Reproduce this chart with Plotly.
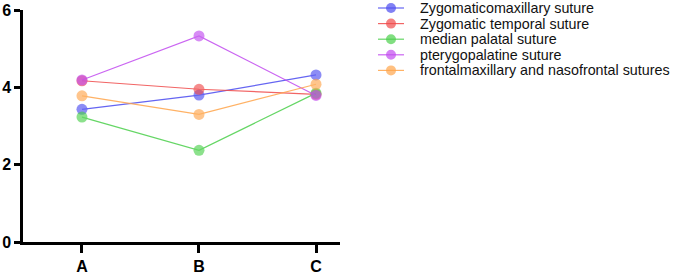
import plotly.graph_objects as go

categories = ["A", "B", "C"]
series_names = [
    "Zygomaticomaxillary suture",
    "Zygomatic temporal suture",
    "median palatal suture",
    "pterygopalatine suture",
    "frontalmaxillary and nasofrontal sutures",
]
zygomaticomaxillary = [3.43, 3.80, 4.32]
zygomatic_temporal = [4.17, 3.95, 3.82]
median_palatal = [3.23, 2.37, 3.85]
pterygopalatine = [4.19, 5.33, 3.79]
frontalmaxillary = [3.78, 3.30, 4.08]
y_ticks = [0, 2, 4, 6]

values = [zygomaticomaxillary, zygomatic_temporal, median_palatal, pterygopalatine, frontalmaxillary]
colors = ["#4b4bf0", "#f04b4b", "#4bd04b", "#c24bf0", "#ffa54b"]

W, H = 676, 274
ML, MR, MT, MB = 23, 336, 10, 32
PW, PH = W - ML - MR, H - MT - MB

def px_x(px):
    return (px - ML) / PW

def px_y(py):
    return 1 - (py - MT) / PH

fig = go.Figure()
for name, vals, c in zip(series_names, values, colors):
    fig.add_trace(go.Scatter(
        x=categories, y=vals, name=name, mode="lines+markers",
        line=dict(color=c, width=1.2),
        marker=dict(color=c, size=11, opacity=0.75),
        opacity=0.85, showlegend=False, cliponaxis=False,
    ))

# custom compact legend
shapes = []
annotations = []
for i, (name, c) in enumerate(zip(series_names, colors)):
    yc = px_y(8 + i * 15.6)
    shapes.append(dict(type="line", xref="paper", yref="paper",
                       x0=px_x(378), x1=px_x(404), y0=yc, y1=yc,
                       line=dict(color=c, width=1.2), opacity=0.85))
    shapes.append(dict(type="circle", xref="paper", yref="paper",
                       xsizemode="pixel", ysizemode="pixel",
                       xanchor=px_x(391), yanchor=yc,
                       x0=-5, x1=5, y0=-5, y1=5,
                       fillcolor=c, line=dict(width=0), opacity=0.7))
    annotations.append(dict(text=name, xref="paper", yref="paper",
                            x=px_x(418), y=yc, xanchor="left", yanchor="middle",
                            showarrow=False,
                            font=dict(size=14.3, family="Liberation Sans, Arial", color="#111")))

fig.update_layout(
    width=W, height=H,
    margin=dict(l=ML, r=MR, t=MT, b=MB, autoexpand=False),
    paper_bgcolor="white", plot_bgcolor="white",
    font=dict(family="Liberation Sans, Arial", color="black"),
    showlegend=False,
    shapes=shapes, annotations=annotations,
)
fig.update_xaxes(
    type="category", range=[-0.504, 2.205], automargin=False,
    showline=True, linecolor="black", linewidth=2.5,
    ticks="outside", ticklen=8, tickwidth=2.5, tickcolor="black",
    showgrid=False, zeroline=False,
    tickfont=dict(size=16, family="Liberation Sans, Arial", weight="bold"),
)
fig.update_yaxes(
    range=[0, 6], tickvals=y_ticks, automargin=False,
    showline=True, linecolor="black", linewidth=2.5,
    ticks="outside", ticklen=6, tickwidth=2.5, tickcolor="black",
    showgrid=False, zeroline=False,
    tickfont=dict(size=16, family="Liberation Sans, Arial", weight="bold"),
)
fig.write_html("out.html")
